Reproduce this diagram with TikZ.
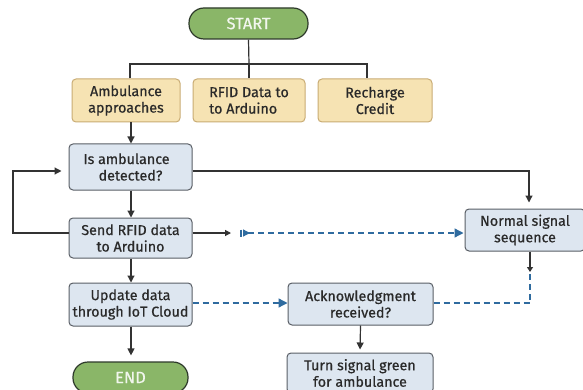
\documentclass[tikz,border=0pt]{standalone}
\usepackage{fontspec}
\setmainfont{Fira Sans}[UprightFeatures={FakeBold=0.6}]
\usetikzlibrary{arrows.meta,calc}
\definecolor{txt}{HTML}{2A2A2A}
\definecolor{ln}{HTML}{333333}
\definecolor{gfill}{HTML}{8AB668}
\definecolor{gdraw}{HTML}{2E3A2B}
\definecolor{yfill}{HTML}{F6E3B3}
\definecolor{ydraw}{HTML}{C9AC74}
\definecolor{bfill}{HTML}{DDE6F0}
\definecolor{bdraw}{HTML}{5A5F66}
\definecolor{dblue}{HTML}{2F6B9F}
\tikzset{
  term/.style={draw=gdraw, fill=gfill, line width=1.2pt, rounded corners=15pt, text=white!88!gfill, font=\fontsize{16.5}{18}\selectfont, inner sep=0pt},
  ybox/.style={draw=ydraw, fill=yfill, line width=1pt, rounded corners=4pt, text=txt, align=center, font=\fontsize{14.3}{16.5}\selectfont, inner sep=0pt},
  bbox/.style={draw=bdraw, fill=bfill, line width=1pt, rounded corners=4pt, text=txt, align=center, font=\fontsize{14.3}{16.5}\selectfont, inner sep=0pt},
  conn/.style={draw=ln, line width=1.2pt},
  arr/.style={conn, -{Triangle[length=7pt,width=7pt]}},
  bdash/.style={draw=dblue, line width=1.3pt, dash pattern=on 6pt off 4pt},
}
\begin{document}
\begin{tikzpicture}[x=1pt,y=-1pt]
\useasboundingbox (0,0) rectangle (583,390);
\fill[white] (0,0) rectangle (583,390);

\node[term, minimum width=119pt, minimum height=31pt] (start) at (248.5,23.5) {START};
\node[ybox, minimum width=108pt, minimum height=43pt] (amb) at (126,100.5) {Ambulance\\approaches};
\node[ybox, minimum width=112pt, minimum height=43pt, align=left] (rfid) at (249,100.5) {RFID Data to\\to Arduino};
\node[ybox, minimum width=114pt, minimum height=43pt] (rech) at (375,100.5) {Recharge\\Credit};

\node[bbox, minimum width=123pt, minimum height=46pt] (det) at (130.5,167) {Is ambulance\hspace*{8pt}\\detected?};
\node[bbox, minimum width=123pt, minimum height=40pt] (send) at (130.5,238) {Send RFID data\\to Arduino};
\node[bbox, minimum width=123pt, minimum height=43pt] (upd) at (130.5,304.5) {Update data\\through IoT Cloud};
\node[term, minimum width=115pt, minimum height=31pt] (end) at (130.5,377.5) {END};

\node[bbox, minimum width=145pt, minimum height=42pt] (ack) at (360.5,304) {Acknowledgment\\received?};
\node[bbox, minimum width=146pt, minimum height=40pt] (turn) at (360,373) {Turn signal green\\for ambulance};
\node[bbox, minimum width=120pt, minimum height=42pt] (norm) at (525,230) {Normal signal\\sequence};

% start fan-out
\coordinate (bar) at (249,64);
\coordinate (bl) at (130,64);
\coordinate (br) at (367,64);
\draw[conn] (start.south) -- (bar);
\draw[conn] (amb.north -| bl) -- (bl) -- (br) -- (rech.north -| br);
\draw[conn] (bar) -- (rfid.north);

% main column
\coordinate (cx) at (131,0);
\draw[arr] (amb.south -| cx) -- (det.north -| cx);
\draw[arr] (det.south -| cx) -- (send.north -| cx);
\draw[arr] (send.south -| cx) -- (upd.north -| cx);
\draw[arr, shorten >=6pt] (upd.south -| cx) -- (end.north -| cx);

% detected -> normal
\coordinate (dr) at (529,171);
\draw[arr, shorten >=6pt] (det.east |- dr) -- (dr) -- (norm.north -| dr);

% loop back
\coordinate (lb) at (13,233);
\coordinate (lt) at (13,171);
\draw[arr, shorten >=7pt] (send.west |- lb) -- (lb) -- (lt) -- (det.west |- lt);

% send -> normal
\coordinate (m1) at (231,233);
\coordinate (m2) at (241,233);
\draw[conn, -{Triangle[length=6pt,width=6pt]}] (send.east |- m1) -- (m1);
\draw[draw=dblue, line width=1.2pt] ($(m2)+(0,-3.5)$) -- ($(m2)+(0,3.5)$);
\draw[bdash, {Triangle[reversed,length=7pt,width=7pt,fill=dblue]}-{Triangle[length=9pt,width=9pt,fill=dblue]}, shorten >=1pt] ($(m2)+(2,0)$) -- (norm.west |- m1);

% update -> ack
\coordinate (ua) at (0,303);
\draw[bdash, -{Triangle[length=9pt,width=9pt,fill=dblue]}] (upd.east |- ua) -- (ack.west |- ua);

% ack -> turn
\draw[arr, shorten >=3pt] (ack.south) -- (turn.north);

% ack -> normal (dashed) and normal stub
\coordinate (ak) at (530,303);
\coordinate (nk) at (530,272);
\draw[bdash] (ack.east |- ak) -- (ak) -- (nk);
\draw[conn, line width=1.1pt, -{Triangle[length=5pt,width=6pt]}] (norm.south -| nk) -- (nk);
\end{tikzpicture}
\end{document}
